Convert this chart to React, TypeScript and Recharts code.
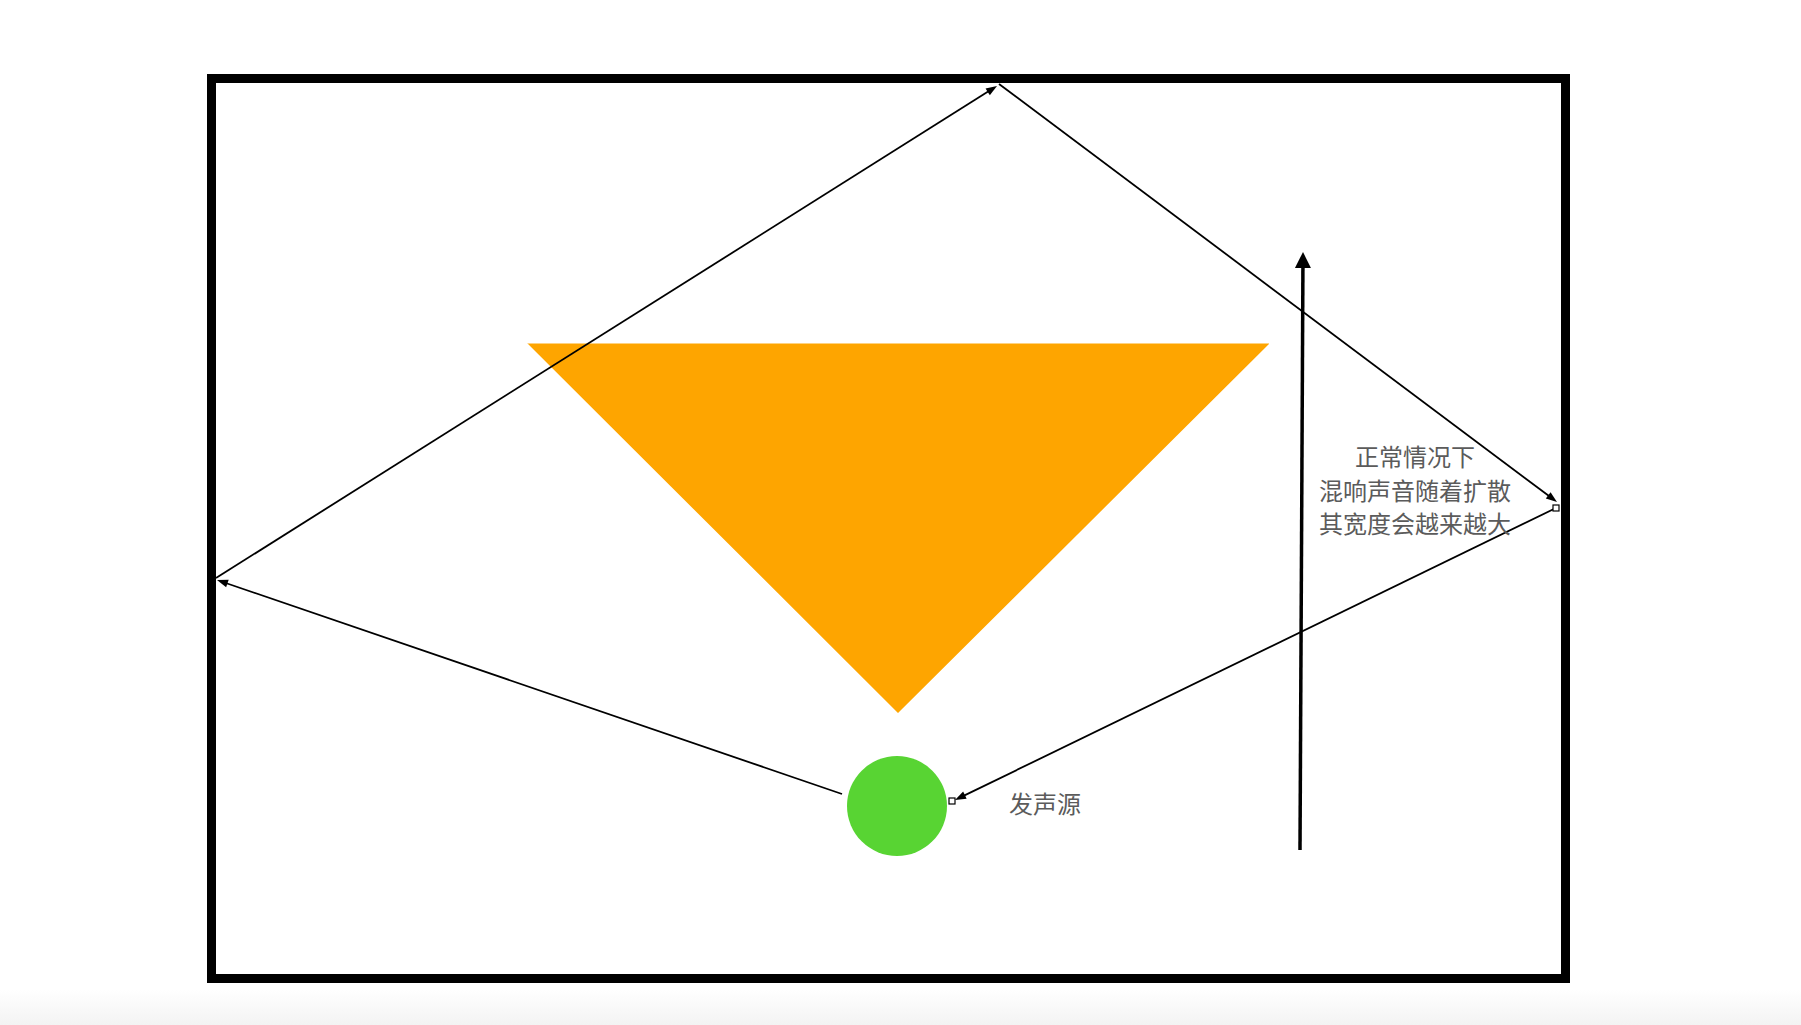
import React from "react";
import {
  ComposedChart,
  XAxis,
  YAxis,
  Area,
  ReferenceArea,
  ReferenceLine,
  ReferenceDot,
} from "recharts";

const WIDTH = 1801;
const HEIGHT = 1025;

// Diagram coordinates (diagram units = page pixels)
const FRAME_X = [211.5, 1565.5];
const FRAME_Y = [78.5, 978.5];

const TRIANGLE = [
  { x: 527, y: 343 },
  { x: 898, y: 713 },
  { x: 1269, y: 344 },
];
const TRIANGLE_TOP = 343.5;

const SOURCE = { x: 897, y: 806 };

const RAYS = [
  { x1: 842, y1: 794, x2: 217, y2: 580 },
  { x1: 216, y1: 578, x2: 997, y2: 86 },
  { x1: 999, y1: 84, x2: 1557, y2: 502 },
  { x1: 1556, y1: 508, x2: 955, y2: 800 },
];

const HANDLES = [
  { x: 1556, y: 508 },
  { x: 952, y: 801 },
];

const GROWTH_ARROW = { x1: 1300, y1: 850, x2: 1303, y2: 252 };

const NOTE_LINES = ["正常情况下", "混响声音随着扩散", "其宽度会越来越大"];
const NOTE_X = 1415;
const NOTE_Y = [455, 489, 522];

const SOURCE_LABEL = "发声源";
const SOURCE_LABEL_POS = { x: 1045, y: 802 };

const TEXT_COLOR = "#5b5b5b";
const FONT = '"Noto Sans CJK SC", "Noto Sans", sans-serif';

function arrowShape(headLen: number, headWidth: number, strokeWidth: number) {
  return (props: any) => {
    const { x1, y1, x2, y2 } = props;
    const dx = x2 - x1;
    const dy = y2 - y1;
    const len = Math.sqrt(dx * dx + dy * dy) || 1;
    const ux = dx / len;
    const uy = dy / len;
    const bx = x2 - ux * headLen;
    const by = y2 - uy * headLen;
    const px = -uy * (headWidth / 2);
    const py = ux * (headWidth / 2);
    return (
      <g>
        <line
          x1={x1}
          y1={y1}
          x2={bx + ux * 1}
          y2={by + uy * 1}
          stroke="#000"
          strokeWidth={strokeWidth}
        />
        <polygon
          points={`${x2},${y2} ${bx + px},${by + py} ${bx - px},${by - py}`}
          fill="#000"
        />
      </g>
    );
  };
}

const textShape = (lines: string[], size: number) => (props: any) => {
  const { cx, cy } = props;
  return (
    <text
      x={cx}
      y={cy}
      textAnchor="middle"
      dominantBaseline="central"
      fill={TEXT_COLOR}
      fontSize={size}
      fontFamily={FONT}
    >
      {lines[0]}
    </text>
  );
};

const handleShape = (props: any) => {
  const { cx, cy } = props;
  return (
    <rect x={cx - 3} y={cy - 3} width={6} height={6} fill="#fff" stroke="#000" strokeWidth={1.2} />
  );
};

export default function App() {
  return (
    <div
      style={{
        position: "absolute",
        left: 0,
        top: 0,
        width: WIDTH,
        height: HEIGHT,
        background: "#fff",
        overflow: "hidden",
      }}
    >
      <div
        style={{
          position: "absolute",
          left: 0,
          top: 990,
          width: WIDTH,
          height: HEIGHT - 990,
          background: "linear-gradient(#ffffff, #f3f3f3)",
        }}
      />
      <div style={{ position: "absolute", left: 0, top: 0 }}>
        <ComposedChart
          width={WIDTH}
          height={HEIGHT}
          data={TRIANGLE}
          margin={{ top: 0, right: 0, bottom: 0, left: 0 }}
        >
          <XAxis type="number" dataKey="x" domain={[0, WIDTH]} allowDataOverflow hide />
          <YAxis type="number" domain={[0, HEIGHT]} allowDataOverflow reversed hide />
          <ReferenceArea
            x1={FRAME_X[0]}
            x2={FRAME_X[1]}
            y1={FRAME_Y[0]}
            y2={FRAME_Y[1]}
            fill="none"
            fillOpacity={0}
            stroke="#000"
            strokeWidth={9}
            strokeOpacity={1}
            ifOverflow="visible"
          />
          <Area
            type="linear"
            dataKey="y"
            baseValue={TRIANGLE_TOP}
            fill="#fea500"
            fillOpacity={1}
            stroke="none"
            isAnimationActive={false}
            dot={false}
            activeDot={false}
          />
          <ReferenceDot
            x={SOURCE.x}
            y={SOURCE.y}
            r={50}
            fill="#58d433"
            stroke="none"
            ifOverflow="visible"
          />
          {RAYS.map((r, i) => (
            <ReferenceLine
              key={`ray-${i}`}
              segment={[
                { x: r.x1, y: r.y1 },
                { x: r.x2, y: r.y2 },
              ]}
              ifOverflow="visible"
              shape={arrowShape(11, 8, 1.8)}
            />
          ))}
          {HANDLES.map((h, i) => (
            <ReferenceDot
              key={`h-${i}`}
              x={h.x}
              y={h.y}
              r={3}
              ifOverflow="visible"
              shape={handleShape}
            />
          ))}
          <ReferenceLine
            segment={[
              { x: GROWTH_ARROW.x1, y: GROWTH_ARROW.y1 },
              { x: GROWTH_ARROW.x2, y: GROWTH_ARROW.y2 },
            ]}
            ifOverflow="visible"
            shape={arrowShape(16, 16, 3.5)}
          />
          {NOTE_LINES.map((line, i) => (
            <ReferenceDot
              key={`note-${i}`}
              x={NOTE_X}
              y={NOTE_Y[i]}
              r={1}
              ifOverflow="visible"
              shape={textShape([line], 24)}
            />
          ))}
          <ReferenceDot
            x={SOURCE_LABEL_POS.x}
            y={SOURCE_LABEL_POS.y}
            r={1}
            ifOverflow="visible"
            shape={textShape([SOURCE_LABEL], 24)}
          />
        </ComposedChart>
      </div>
    </div>
  );
}
